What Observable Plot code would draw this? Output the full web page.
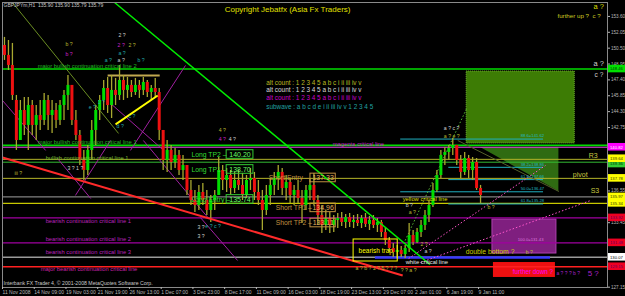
<!DOCTYPE html>
<html><head><meta charset="utf-8">
<script src="https://cdn.jsdelivr.net/npm/d3@7"></script>
<script src="https://cdn.jsdelivr.net/npm/@observablehq/plot@0.6"></script>
<style>html,body{margin:0;padding:0;background:#000;overflow:hidden}</style>
</head><body><div id="chart"></div>
<script>
// ---------------- data ----------------
const symbolInfo = "GBPJPYm,H1  135.90 135.90 135.79 135.79";
const title = "Copyright Jebatfx (Asia Fx Traders)";
const broker = "Interbank FX Trader 4, \u00a9 2001-2008 MetaQuotes Software Corp.";

const xTickLabels = ["11 Nov 2008","14 Nov 09:00","19 Nov 03:00","21 Nov 19:00","26 Nov 13:00","1 Dec 07:00","3 Dec 23:00","8 Dec 17:00","11 Dec 09:00","16 Dec 03:00","18 Dec 19:00","23 Dec 13:00","29 Dec 07:00","2 Jan 01:00","6 Jan 19:00","9 Jan 11:00"];
const barsPerLabel = 64;      // H1 bars between time labels
const barsPerCandle = 8;      // each drawn candle summarises 8 H1 bars
const yTicks = [153.60,152.05,150.50,148.95,147.40,145.85,144.30,142.75,141.20,139.65,138.10,136.55,135.00,133.45,131.90,130.35,128.80,127.15];

const opens = [150.76,149.79,148.81,145.39,141.48,144.41,142.95,144.90,142.95,143.92,
143.44,145.39,143.92,144.41,143.44,144.90,145.88,146.86,143.44,141.97,
139.53,138.55,140.51,142.46,144.41,145.39,146.56,144.90,146.37,145.88,
147.34,146.37,146.86,146.17,146.86,146.37,147.15,146.17,146.56,146.17,
142.46,139.53,140.51,139.33,140.02,138.55,139.04,136.60,135.62,135.13,
136.40,135.62,134.64,135.62,136.11,138.55,137.57,138.06,136.79,137.57,
137.09,136.11,137.57,137.77,136.40,135.62,134.64,136.11,137.09,137.77,
138.36,136.79,137.38,136.11,136.60,135.82,135.13,136.60,137.09,135.62,
134.15,133.18,133.86,133.18,133.67,133.86,133.47,133.96,133.47,133.67,
133.37,133.86,133.28,133.67,133.18,133.47,132.49,131.71,130.93,130.54,
130.74,130.34,130.93,132.20,131.52,132.49,133.18,134.15,135.13,136.60,
138.06,140.02,140.31,140.70,140.99,139.53,138.36,139.72,138.55,139.33,
136.79];
const highs = [151.55,151.25,150.96,145.88,145.39,145.68,145.68,145.39,144.90,145.39,
146.07,145.88,145.39,145.10,145.39,146.37,147.83,146.86,144.41,142.46,
140.51,140.99,143.44,144.90,145.88,147.34,147.64,147.83,147.54,148.81,
147.83,147.64,147.34,147.54,147.34,147.64,147.34,146.86,147.54,146.56,
142.46,141.48,140.99,140.70,140.51,140.02,139.04,137.57,136.60,137.09,
137.28,136.60,136.11,136.60,139.82,139.04,138.75,138.55,138.36,138.55,
138.26,138.06,138.75,138.36,137.57,136.60,137.09,137.77,138.36,139.04,
138.75,138.06,137.77,137.09,137.57,136.60,137.09,137.77,138.26,136.11,
135.13,134.64,134.45,134.15,134.35,134.45,134.25,134.35,134.15,134.25,
134.15,134.35,134.06,134.15,133.86,133.67,132.88,132.01,131.42,131.22,
131.13,131.22,133.37,132.69,132.88,133.67,134.64,135.62,137.28,138.55,
140.51,140.80,140.99,141.68,140.99,140.02,140.31,140.02,139.82,139.72,
137.09];
const lows = [149.30,148.32,145.39,140.51,141.48,141.97,140.51,141.97,141.48,142.46,
142.95,142.46,142.17,142.65,142.95,143.44,144.41,142.95,141.48,139.04,
137.57,138.06,139.53,140.99,143.44,144.41,144.12,143.63,144.90,145.39,
145.39,145.59,145.68,145.88,145.59,145.88,145.68,145.39,145.59,141.48,
138.55,138.36,138.55,138.75,138.06,137.57,136.11,135.13,134.45,134.64,
135.13,134.15,133.47,134.64,136.11,136.60,136.40,136.11,136.30,136.60,
135.62,135.82,136.60,135.62,135.13,132.69,134.15,135.13,136.11,136.60,
136.11,135.62,135.33,135.13,135.33,133.37,134.64,135.62,135.13,133.18,
132.40,132.69,132.40,132.49,132.88,133.08,132.88,132.98,132.88,133.08,
132.88,132.98,132.69,132.88,132.49,132.01,131.22,130.54,130.05,129.95,
130.05,129.95,130.54,131.22,131.42,132.01,132.69,133.47,134.94,136.40,
137.77,139.04,139.53,140.02,139.04,137.77,138.06,137.77,137.57,136.60,
135.33];
const closes = [149.79,148.81,145.88,141.48,144.41,142.95,144.90,142.95,143.92,143.44,
145.39,143.92,144.41,143.44,144.90,145.88,146.86,143.44,141.97,139.53,
138.55,140.51,142.46,144.41,145.39,146.56,144.90,146.37,145.88,147.34,
146.37,146.86,146.17,146.86,146.37,147.15,146.17,146.56,146.17,142.46,
139.53,140.51,139.33,140.02,138.55,139.04,136.60,135.62,135.13,136.40,
135.62,134.64,135.62,136.11,138.55,137.57,138.06,136.79,137.57,137.09,
136.11,137.57,137.77,136.40,135.62,134.64,136.11,137.09,137.77,138.36,
136.79,137.38,136.11,136.60,135.82,135.13,136.60,137.09,135.62,134.15,
133.18,133.86,133.18,133.67,133.86,133.47,133.96,133.47,133.67,133.37,
133.86,133.28,133.67,133.18,133.47,132.49,131.71,130.93,130.54,130.74,
130.34,130.93,132.20,131.52,132.49,133.18,134.15,135.13,136.60,138.06,
140.02,140.31,140.70,140.99,139.53,138.36,139.72,138.55,139.33,136.79,
136.11];

// horizontal critical lines
const levelNames  = ["major bullish 2","major bullish 1","magenta","R3","bullish 1","pivot","S3","yellow","bearish 1","bearish 2","bearish 3","major bearish"];
const levelPrices = [148.46,141.00,140.82,139.64,139.36,137.78,135.97,135.34,133.92,131.48,130.07,129.15];

// right-edge price tags
const tagPrices = [148.46,140.82,139.36,139.64,137.78,135.97,135.34,133.92,131.48,130.07,129.15];

// fibonacci levels (from / to bar index)
const fibNames  = ["88.6=141.62","38.2=138.86","61.8=137.66","50.0=136.47","61.8=135.28"];
const fibPrices = [141.62,138.86,137.66,136.47,135.28];
const fibStart  = [803,900,900,803,900];
const fibEnd    = [1091,1091,1091,1091,1091];

// zones (rectangles)
const zoneNames = ["target up","retrace 100.0=131.43","further down"];
const zoneT1 = [936,988,990];
const zoneT2 = [1154,1117,1115];
const zoneLow  = [141.19,130.44,128.10];
const zoneHigh = [148.22,133.76,129.56];

// trend lines: [t1, p1, t2, p2]
const trendGreen  = [226,154.96,862,129.37];
const trendOlive  = [20,154.96,234,142.17];
const trendRed    = [0,139.82,807,128.29];
const wedgeYellow = [228,143.05,313,145.88];
const topFlat     = [212,147.83,317,147.83];
const magentaLines = [[0,145.39,87,140.51],[111,139.72,178,135.81],[147,136.11,218,141.48],[218,145.10,325,140.51],[258,140.51,369,148.81],[284,141.48,414,133.96],[399,133.96,474,129.76]];
const pinkDotted  = [[819,129.95,1095,139.04],[843,129.56,1186,135.62]];
const greenDotted = [812,131.71,936,144.61];
const peakLine    = [918,141.48,1122,136.50];
const whiteLine   = [752,130.05,1105];

// trade labels
const tradeNames  = ["Long TP2","Long TP1","Long Entry","Short Entry","Short TP1","Short TP2"];
const tradeValues = ["140.20","138.70","135.74","137.33","134.96","133.11"];
const tradeT      = [381,381,381,537,551,551];
const tradeP      = [140.11,138.65,135.72,137.82,134.90,133.42];
const tradeBoxT1  = [452,452,452,621,621,621];
const tradeBoxT2  = [506,506,506,672,672,672];

// line captions
const captionText = ["major bullish continuation critical line 2","major bullish continuation critical line 1","bullish continuation critical line 1","bearish continuation critical line 1","bearish continuation critical line 2","bearish continuation critical line 3","major bearish continuation critical line","magenta critical line","yellow critical line","white critical line"];
const captionT = [71,71,87,87,87,87,77,666,807,813];
const captionP = [148.70,141.29,139.72,133.57,131.81,130.54,128.88,141.09,135.72,129.56];

// wave count labels
const waveText = ["2 ?","2 ?","2 ?","a ?","b ?","b ?","a ?","a ?","b ?","1 ?","e ?","c ?","d ?","4 ?","4 ?","4 ?","iii ?","3 ? 1 ?","3 ?","3 ?","e ? c ?","a ? b ? 2 ? 5 ? 7 ?","? ? a ?","a ? c ?","a ? e ?","b ?","a ?","2 ?","a ?","b ?","b ?"];
const waveT = [234,232,254,234,127,127,206,232,272,192,174,254,230,436,436,456,24,131,393,393,409,712,803,890,890,813,819,843,851,978,1055];
const waveP = [151.74,150.76,150.76,149.98,150.86,149.88,149.30,149.30,149.30,145.19,144.71,143.83,142.85,142.46,141.58,141.58,138.26,138.75,132.98,132.10,133.08,128.98,128.78,142.65,141.87,135.13,134.45,131.32,130.64,134.94,130.54];
const waveKind = ["w","m","o","c","o","m","c","w","c","c","c","c","c","o","m","w","o","w","w","w","c","o","o","w","o","w","o","o","w","o","o"];

const altCounts = ["alt count : 1 2 3 4 5 a b c i ii iii iv v","alt count : 1 2 3 4 5 a b c i ii iii iv v","alt count : 1 2 3 4 5 a b c i ii iii iv v","subwave : a b c d e i ii iii iv v 1 2 3 4 5"];
const altCountP = [147.15,146.37,145.59,144.80];

// ---------------- drawing ----------------
const FONT = "Liberation Sans, Arial, sans-serif";
const candles = opens.map((o, i) => ({t: i * barsPerCandle + barsPerCandle / 2, o, h: highs[i], l: lows[i], c: closes[i]}));
const seg = (a) => ({x1: a[0], y1: a[1], x2: a[2], y2: a[3]});

const levelStyle = [
  ["#00dd00", null, 1.6], ["#00dd00", null, 1.6], ["#e040e0", "2,2", 1], ["#b4b428", "1.5,2", 1],
  ["#33bb33", null, 1], ["#b4b428", "1.5,2", 1], ["#a0a0a0", "1.5,2", 1], ["#c8c800", "7,3", 1.2],
  ["#a000a0", null, 1.2], ["#a000a0", "6,3", 1.2], ["#9a9a9a", "6,3", 1.6], ["#ff2020", "1.5,1.5", 1.6]
];
const levels = levelPrices.map((p, i) => ({p, stroke: levelStyle[i][0], dash: levelStyle[i][1], w: levelStyle[i][2]}));
const tagStyle = {
  148.46: ["#00e000", "#003300"], 140.82: ["#ff00ff", "#ffffff"], 139.64: ["#ffff00", "#333300"],
  139.36: ["#33cc33", "#003300"], 137.78: ["#ffff00", "#333300"], 135.97: ["#ffff00", "#333300"],
  135.34: ["#ffff00", "#333300"], 133.92: ["#ee0022", "#660066"], 131.48: ["#ee0022", "#660066"],
  130.07: ["#ffffff", "#000000"], 129.15: ["#ee0022", "#660066"]
};
// small vertical nudges so stacked tags stay readable
const tagShift = {139.64: 0.06, 139.36: -0.18};
const tags = tagPrices.map(p => {
  const c = p + (tagShift[p] || 0);
  return {p: c, lo: c - 0.37, hi: c + 0.37, bg: tagStyle[p][0], fg: tagStyle[p][1], label: p.toFixed(2)};
});
// grid prices hidden behind a coloured tag are not printed (as in the terminal)
const shownTicks = yTicks.filter(v => tags.every(d => Math.abs(d.p - v) > 0.43));
const kindColor = {w: "#d0d0d0", m: "#cc22cc", o: "#b8b830", c: "#22aaaa"};
const waves = waveText.map((s, i) => ({s, t: waveT[i], p: waveP[i], col: kindColor[waveKind[i]]}));
const captionColor = ["#22bb22","#22bb22","#77bb33","#bb22bb","#bb22bb","#bb22bb","#cc22aa","#cc22cc","#dddd00","#e8e8e8"];
const captions = captionText.map((s, i) => ({s, t: captionT[i], p: captionP[i], col: captionColor[i]}));
const zoneFill = ["#3d7c05", "#7f1f7f", "#ee1010"];
const zones = zoneNames.map((n, i) => ({x1: zoneT1[i], x2: zoneT2[i], y1: zoneLow[i], y2: zoneHigh[i], fill: zoneFill[i]}));
const fibs = fibNames.map((n, i) => ({n, p: fibPrices[i], x1: fibStart[i], x2: fibEnd[i]}));
const trades = tradeNames.map((n, i) => ({n: n + " \u2013", v: tradeValues[i], t: tradeT[i], p: tradeP[i], b1: tradeBoxT1[i], b2: tradeBoxT2[i], long: n.startsWith("Long")}));
const altColor = ["#bbbb22", "#dddddd", "#cc00cc", "#20a0a0"];
const alts = altCounts.map((s, i) => ({s, p: altCountP[i], col: altColor[i]}));
const one = (t, p, s) => [{t, p, s}];

const chart = Plot.plot({
  width: 625, height: 296,
  marginLeft: 2, marginRight: 18, marginTop: 2, marginBottom: 9,
  x: {domain: [0, 1220]},
  y: {domain: [127.12, 154.96]},
  style: {background: "#000", fontFamily: FONT, overflow: "visible"},
  marks: [
    // zones
    Plot.rect(zones, {x1: "x1", x2: "x2", y1: "y1", y2: "y2", fill: "fill"}),
    Plot.rect([zones[0]], {x1: "x1", x2: "x2", y1: "y1", y2: "y2", fill: "none", stroke: "#6fb030", strokeDasharray: "1,1"}),
    Plot.rect([zones[1]], {x1: "x1", x2: "x2", y1: "y1", y2: "y2", fill: "none", stroke: "#b040b0", strokeWidth: 1}),
    Plot.areaY([{t: 964, lo: 140.80, hi: 140.80}, {t: 1122, lo: 136.50, hi: 140.80}], {x: "t", y1: "lo", y2: "hi", fill: "#2f6b12"}),
    // horizontal lines
    Plot.ruleY(levels, {y: "p", stroke: "stroke", strokeWidth: "w", strokeDasharray: "dash"}),
    Plot.ruleY(fibs, {y: "p", x1: "x1", x2: "x2", stroke: "#1fb0c0", strokeWidth: 1}),
    Plot.ruleY([{p: whiteLine[1], x1: whiteLine[0], x2: whiteLine[2]}], {y: "p", x1: "x1", x2: "x2", stroke: "#3a3aff", strokeWidth: 2.5}),
    // trend lines
    Plot.link(magentaLines.map(seg), {x1: "x1", y1: "y1", x2: "x2", y2: "y2", stroke: "#a020a0", strokeWidth: 1}),
    Plot.link(pinkDotted.map(seg), {x1: "x1", y1: "y1", x2: "x2", y2: "y2", stroke: "#ff55cc", strokeWidth: 1, strokeDasharray: "1.5,2"}),
    Plot.link([seg(greenDotted)], {x1: "x1", y1: "y1", x2: "x2", y2: "y2", stroke: "#55bb33", strokeWidth: 1, strokeDasharray: "1.5,2"}),
    Plot.link([seg(peakLine)], {x1: "x1", y1: "y1", x2: "x2", y2: "y2", stroke: "#55602a", strokeWidth: 1}),
    Plot.link([seg(trendOlive)], {x1: "x1", y1: "y1", x2: "x2", y2: "y2", stroke: "#6b8e23", strokeWidth: 1}),
    Plot.link([seg(topFlat)], {x1: "x1", y1: "y1", x2: "x2", y2: "y2", stroke: "#c0a850", strokeWidth: 2}),
    // candles
    Plot.ruleX(candles, {x: "t", y1: "l", y2: "h", stroke: "#a8a830", strokeWidth: 1.3}),
    Plot.ruleX(candles, {x: "t", y1: "o", y2: "c", stroke: d => d.c >= d.o ? "#00dd00" : "#ee1111", strokeWidth: 3}),
    // trend lines over candles
    Plot.link([seg(trendGreen)], {x1: "x1", y1: "y1", x2: "x2", y2: "y2", stroke: "#00ee00", strokeWidth: 1.5}),
    Plot.link([seg(trendRed)], {x1: "x1", y1: "y1", x2: "x2", y2: "y2", stroke: "#ff2a2a", strokeWidth: 2}),
    Plot.link([seg(wedgeYellow)], {x1: "x1", y1: "y1", x2: "x2", y2: "y2", stroke: "#ffff00", strokeWidth: 2}),
    // bearish trap
    Plot.rect([{x1: 708, x2: 797, y1: 129.66, y2: 131.81}], {x1: "x1", x2: "x2", y1: "y1", y2: "y2", fill: "none", stroke: "#ffff00", strokeWidth: 1}),
    Plot.text(one(718, 130.73, "bearish trap"), {x: "t", y: "p", text: "s", fill: "#ffff00", fontSize: 6.5, textAnchor: "start"}),
    // trade labels
    Plot.text(trades, {x: "t", y: "p", text: "n", fill: d => d.long ? "#33dd33" : "#c09040", fontSize: 6.8, textAnchor: "start"}),
    Plot.rect(trades, {x1: "b1", x2: "b2", y1: d => d.p - 0.42, y2: d => d.p + 0.42, fill: "none", stroke: d => d.long ? "#33cc33" : "#c09040", strokeWidth: 1}),
    Plot.text(trades, {x: d => (d.b1 + d.b2) / 2, y: "p", text: "v", fill: d => d.long ? "#66ff66" : "#e0b060", fontSize: 7}),
    // captions
    Plot.text(captions, {x: "t", y: "p", text: "s", fill: "col", fontSize: 5.8, textAnchor: "start"}),
    Plot.text(alts, {x: 532, y: "p", text: "s", fill: "col", fontSize: 6.4, textAnchor: "start"}),
    Plot.text(waves, {x: "t", y: "p", text: "s", fill: "col", fontSize: 5.2, textAnchor: "start"}),
    Plot.text(fibs, {x: 1045, y: d => d.p + 0.3, text: "n", fill: "#22b8c8", fontSize: 4.2, textAnchor: "start"}),
    Plot.text(one(1039, 131.81, "100.0=131.43"), {x: "t", y: "p", text: "s", fill: "#dd77dd", fontSize: 4.2, textAnchor: "start"}),
    Plot.text([{s: "R3", t: 1182, p: 140.02}, {s: "pivot", t: 1150, p: 138.16}, {s: "S3", t: 1186, p: 136.60}], {x: "t", y: "p", text: "s", fill: "#c8c840", fontSize: 7, textAnchor: "start"}),
    Plot.text(one(934, 130.64, "double bottom ?"), {x: "t", y: "p", text: "s", fill: "#cccc00", fontSize: 6.8, textAnchor: "start"}),
    Plot.text(one(1029, 128.59, "further down ?"), {x: "t", y: "p", text: "s", fill: "#ff00ff", fontSize: 6.3, textAnchor: "start"}),
    Plot.text(one(1117, 128.49, "a ? ? ? b ?"), {x: "t", y: "p", text: "s", fill: "#aa22cc", fontSize: 5, textAnchor: "start"}),
    Plot.text(one(1180, 128.49, "5 ?"), {x: "t", y: "p", text: "s", fill: "#aa22cc", fontSize: 8, textAnchor: "start"}),
    Plot.text(one(1192, 154.57, "a ?"), {x: "t", y: "p", text: "s", fill: "#dddd00", fontSize: 7.5, textAnchor: "start"}),
    Plot.text(one(1119, 153.60, "further up ?  c ?"), {x: "t", y: "p", text: "s", fill: "#cccc22", fontSize: 6.2, textAnchor: "start"}),
    Plot.text(one(1192, 149.00, "a ?"), {x: "t", y: "p", text: "s", fill: "#d0d0d0", fontSize: 7.5, textAnchor: "start"}),
    Plot.text(one(1194, 147.93, "c ?"), {x: "t", y: "p", text: "s", fill: "#d0d0d0", fontSize: 6.5, textAnchor: "start"}),
    Plot.text(one(448, 154.28, title), {x: "t", y: "p", text: "s", fill: "#e0e000", fontSize: 8, textAnchor: "start"}),
    Plot.text(one(2, 154.67, symbolInfo), {x: "t", y: "p", text: "s", fill: "#c8c8c8", fontSize: 5, textAnchor: "start"}),
    Plot.text(one(2, 127.51, broker), {x: "t", y: "p", text: "s", fill: "#c8c8c8", fontSize: 5.2, textAnchor: "start"}),
    // frame and axes
    Plot.frame({stroke: "#8a8a8a"}),
    Plot.axisX(xTickLabels.map((d, i) => i * barsPerLabel), {anchor: "bottom", tickSize: 2, tickPadding: 1, fontSize: 5, color: "#b8b8b8", textAnchor: "start", tickFormat: d => xTickLabels[Math.round(d / barsPerLabel)], label: null}),
    Plot.axisY(shownTicks, {anchor: "right", tickSize: 2, tickPadding: 1.5, fontSize: 4.6, color: "#b8b8b8", tickFormat: d => d.toFixed(2), label: null}),
    // price tags
    Plot.rect(tags, {x1: 1222, x2: 1258, y1: "lo", y2: "hi", fill: "bg"}),
    Plot.text(tags, {x: 1225, y: "p", text: "label", fill: "fg", fontSize: 4.2, textAnchor: "start"})
  ]
});
document.getElementById("chart").appendChild(chart);
</script>
</body></html>
